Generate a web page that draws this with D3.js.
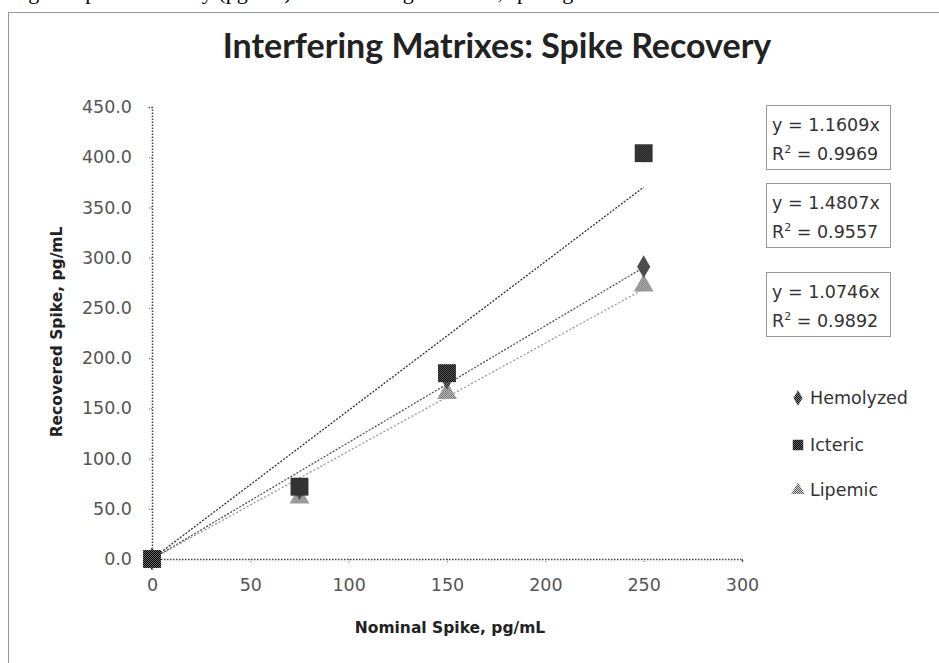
<!DOCTYPE html>
<meta charset="utf-8">
<style>
  body { margin: 0; background: #fff; }
  text { font-family: "DejaVu Sans", sans-serif; }
</style>
<body>
<script src="https://cdn.jsdelivr.net/npm/d3@7"></script>
<script>
// values
var nominal = [0, 75, 150, 250];
var hemolyzed = [0, 70, 180, 291];
var icteric = [0, 72, 185, 404];
var lipemic = [0, 61, 165, 272];
var seriesNames = ["Hemolyzed", "Icteric", "Lipemic"];
var slopes = [1.1609, 1.4807, 1.0746];
var rSquared = [0.9969, 0.9557, 0.9892];
var yTicks = [0, 50, 100, 150, 200, 250, 300, 350, 400, 450];
var xTicks = [0, 50, 100, 150, 200, 250, 300];

var width = 939, height = 663;
var svg = d3.select("body").append("svg")
  .attr("width", width)
  .attr("height", height);

// halftone-like fills, the scan shows checkered markers
var defs = svg.append("defs");
function checker(id, bg, color) {
  var p = defs.append("pattern")
    .attr("id", id).attr("width", 2).attr("height", 2)
    .attr("patternUnits", "userSpaceOnUse");
  p.append("rect").attr("width", 2).attr("height", 2).attr("fill", bg);
  p.append("rect").attr("width", 1).attr("height", 1).attr("fill", color);
  p.append("rect").attr("x", 1).attr("y", 1).attr("width", 1).attr("height", 1).attr("fill", color);
}
checker("dk", "#666", "#000");
checker("md", "#888", "#111");
checker("lt", "#ddd", "#555");

// clipped caption line from the page above
svg.append("text")
  .attr("x", 10).attr("y", -1)
  .style("font-family", "'Liberation Serif', serif")
  .style("font-size", "22px")
  .text("Fig. 3: Spike Recovery (pg/mL) in Interfering Matrixes, spiking at three levels");

// outer dotted frame
svg.append("rect")
  .attr("x", 8.5).attr("y", 12.5)
  .attr("width", 1000).attr("height", 700)
  .attr("fill", "none")
  .attr("stroke", "#333")
  .attr("stroke-dasharray", "1,1");

svg.append("text")
  .attr("x", 497).attr("y", 58)
  .attr("text-anchor", "middle")
  .style("font-family", "Lato, sans-serif")
  .style("font-size", "34px")
  .style("font-weight", "bold")
  .attr("fill", "#222")
  .text("Interfering Matrixes: Spike Recovery");

var x = d3.scaleLinear().domain([0, 300]).range([152, 742]);
var y = d3.scaleLinear().domain([0, 450]).range([559, 107]);

var xAxis = svg.append("g")
  .attr("transform", "translate(0," + y(0) + ")")
  .call(d3.axisBottom(x).tickValues(xTicks).tickSize(4).tickPadding(16).tickFormat(d3.format("d")));
var yAxis = svg.append("g")
  .attr("transform", "translate(" + x(0) + ",0)")
  .call(d3.axisLeft(y).tickValues(yTicks).tickSize(4).tickPadding(16).tickFormat(d3.format(".1f")));

[xAxis, yAxis].forEach(function(g) {
  g.select(".domain").attr("stroke", "#444").attr("stroke-dasharray", "1.5,1.5").attr("stroke-width", 1.5);
  g.selectAll(".tick line").attr("stroke", "#666").attr("stroke-dasharray", "1,1");
  g.selectAll(".tick text")
    .style("font-family", "'DejaVu Sans', sans-serif")
    .style("font-size", "17.5px")
    .attr("fill", "#555");
});

svg.append("text")
  .attr("x", 450).attr("y", 633)
  .attr("text-anchor", "middle")
  .style("font-size", "15.5px").style("font-weight", "bold")
  .attr("fill", "#222")
  .text("Nominal Spike, pg/mL");

svg.append("text")
  .attr("transform", "translate(62,332) rotate(-90)")
  .attr("text-anchor", "middle")
  .style("font-size", "15.5px").style("font-weight", "bold")
  .attr("fill", "#222")
  .text("Recovered Spike, pg/mL");

// trend lines, through the origin
var lineStyles = [
  { stroke: "#555", dash: "2,1.5" },
  { stroke: "#333", dash: "2,1.5" },
  { stroke: "#999", dash: "2,2" }
];
slopes.forEach(function(s, i) {
  svg.append("line")
    .attr("x1", x(0)).attr("y1", y(0))
    .attr("x2", x(250)).attr("y2", y(250 * s))
    .attr("stroke", lineStyles[i].stroke)
    .attr("stroke-width", 1.3)
    .attr("stroke-dasharray", lineStyles[i].dash);
});

// markers
var symbols = [d3.symbolDiamond, d3.symbolSquare, d3.symbolTriangle];
var sizes = [150, 320, 170];
var fills = ["url(#md)", "url(#dk)", "url(#lt)"];
var allSeries = [hemolyzed, icteric, lipemic];

// lipemic first, then hemolyzed, icteric on top
[2, 0, 1].forEach(function(i) {
  svg.append("g").selectAll("path")
    .data(allSeries[i])
    .enter().append("path")
    .attr("d", d3.symbol().type(symbols[i]).size(sizes[i]))
    .attr("transform", function(d, j) { return "translate(" + x(nominal[j]) + "," + y(d) + ")"; })
    .attr("fill", fills[i]);
});

// equation labels
var boxTops = [105, 183, 272];
slopes.forEach(function(s, i) {
  var g = svg.append("g").attr("transform", "translate(766," + boxTops[i] + ")");
  g.append("rect")
    .attr("x", 0.5).attr("y", 0.5)
    .attr("width", 124).attr("height", 64)
    .attr("fill", "#fff")
    .attr("stroke", "#333")
    .attr("stroke-dasharray", "1,1");
  g.append("text")
    .attr("x", 6).attr("y", 26)
    .style("font-size", "17.5px").attr("fill", "#333")
    .text("y = " + s.toFixed(4) + "x");
  var t = g.append("text")
    .attr("x", 6).attr("y", 55)
    .style("font-size", "17.5px").attr("fill", "#333");
  t.append("tspan").text("R");
  t.append("tspan").attr("dy", -7).style("font-size", "11px").text("2");
  t.append("tspan").attr("dy", 7).text(" = " + rSquared[i].toFixed(4));
});

// legend
var legendY = [398, 445, 490];
var legendSizes = [70, 110, 80];
seriesNames.forEach(function(name, i) {
  svg.append("path")
    .attr("d", d3.symbol().type(symbols[i]).size(legendSizes[i]))
    .attr("transform", "translate(798," + legendY[i] + ")")
    .attr("fill", fills[i]);
  svg.append("text")
    .attr("x", 810).attr("y", legendY[i] + 6)
    .style("font-size", "17.5px").attr("fill", "#333")
    .text(name);
});
</script>
</body>
